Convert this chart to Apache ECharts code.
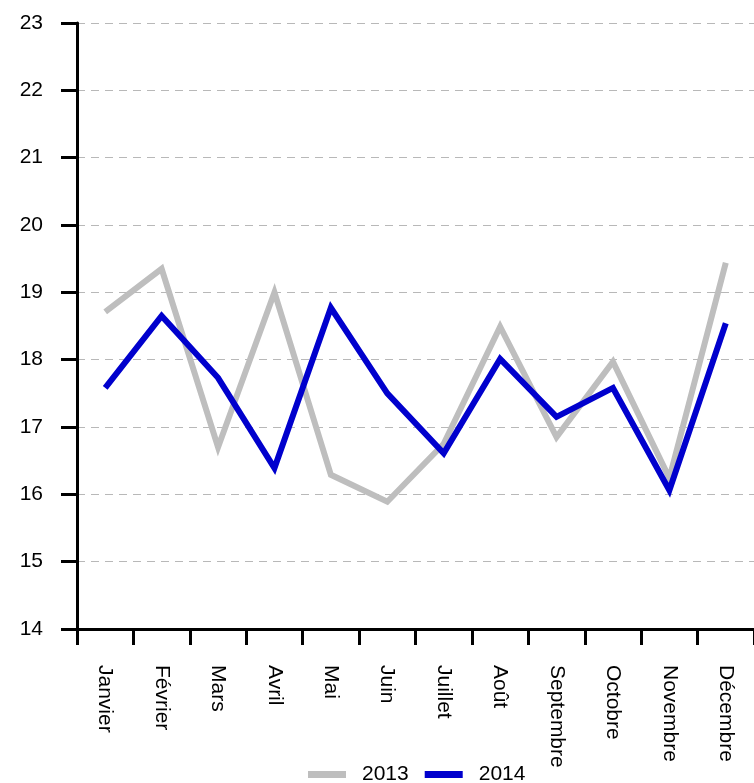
<!DOCTYPE html>
<html><head><meta charset="utf-8">
<script src="https://cdn.jsdelivr.net/npm/echarts@6/dist/echarts.min.js"></script>
<style>html,body{margin:0;padding:0;background:#fff}#c{width:754px;height:783px}</style>
</head><body><div id="c"></div>
<script>
const months = ['Janvier','Février','Mars','Avril','Mai','Juin','Juillet','Août','Septembre','Octobre','Novembre','Décembre'];
const values2013 = [18.71, 19.35, 16.70, 19.00, 16.29, 15.89, 16.75, 18.49, 16.85, 17.97, 16.24, 19.44];
const values2014 = [17.58, 18.65, 17.73, 16.39, 18.77, 17.50, 16.61, 18.01, 17.15, 17.58, 16.06, 18.54];
const yTicks = [14, 15, 16, 17, 18, 19, 20, 21, 22, 23];

const chart = echarts.init(document.getElementById('c'));
const font = 'Liberation Sans, Arial, sans-serif';
chart.setOption({
  animation: false,
  grid: {left: 77, top: 23, width: 680, bottom: 154, containLabel: false},
  legend: {
    top: 764, left: 308, itemWidth: 38, itemHeight: 7, itemGap: 16,
    icon: 'rect', padding: 0,
    textStyle: {fontFamily: font, fontSize: 21, color: '#000', padding: [0, 0, 0, 11]},
    data: ['2013', '2014']
  },
  xAxis: {
    type: 'category', data: months, boundaryGap: true,
    axisLine: {lineStyle: {color: '#000', width: 3}},
    axisTick: {show: true, length: 16, lineStyle: {color: '#000', width: 3}},
    axisLabel: {rotate: -90, margin: 36, color: '#000', fontFamily: font, fontSize: 21}
  },
  yAxis: {
    type: 'value', min: yTicks[0], max: yTicks[yTicks.length - 1], interval: 1,
    axisLine: {show: true, lineStyle: {color: '#000', width: 3}},
    axisTick: {show: true, length: 16, lineStyle: {color: '#000', width: 3}},
    axisLabel: {color: '#000', fontFamily: font, fontSize: 21, margin: 34},
    splitLine: {show: true, lineStyle: {color: '#b8b8b8', type: [8, 6], width: 1}}
  },
  series: [
    {name: '2013', type: 'line', data: values2013, symbol: 'none',
     lineStyle: {color: '#bebebe', width: 6, join: 'miter', miterLimit: 10}, itemStyle: {color: '#bebebe'}},
    {name: '2014', type: 'line', data: values2014, symbol: 'none',
     lineStyle: {color: '#0000cd', width: 6, join: 'miter', miterLimit: 10}, itemStyle: {color: '#0000cd'}}
  ]
});
</script></body></html>
